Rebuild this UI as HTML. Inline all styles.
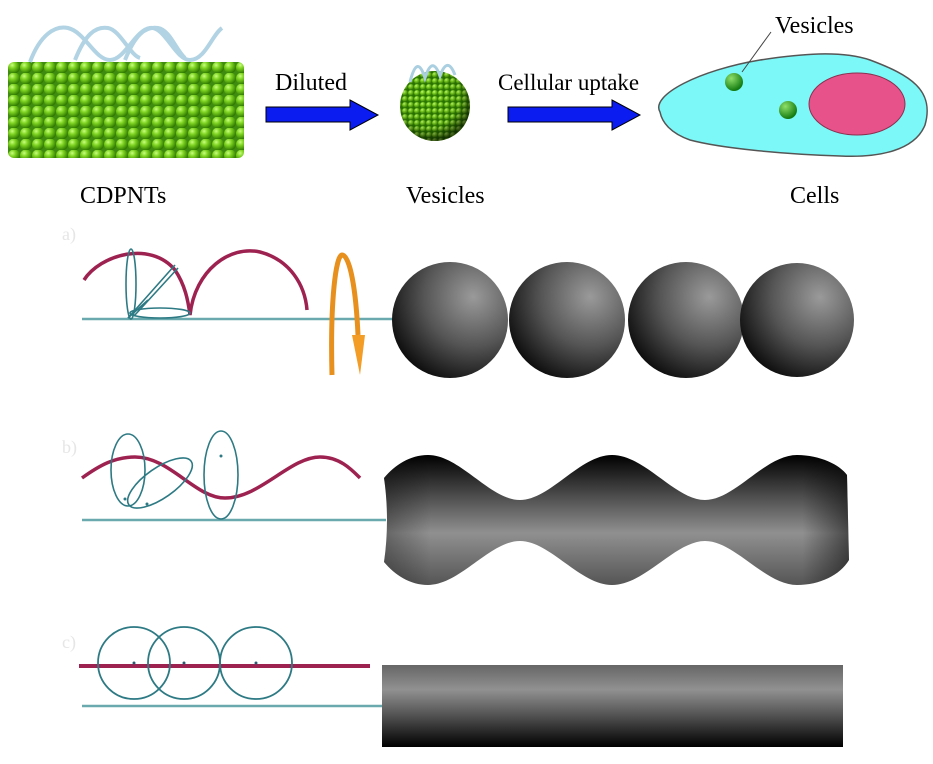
<!DOCTYPE html>
<html><head><meta charset="utf-8"><style>
html,body{margin:0;padding:0;background:#fff;}
svg{display:block;}
text{font-family:"Liberation Serif",serif;}
</style></head><body>
<svg width="933" height="764" viewBox="0 0 933 764" xmlns="http://www.w3.org/2000/svg">
<defs>
<radialGradient id="gb" cx="0.35" cy="0.3" r="0.7">
<stop offset="0" stop-color="#c8ff80"/><stop offset="0.4" stop-color="#7ed321"/><stop offset="1" stop-color="#2f7a00"/>
</radialGradient>
<pattern id="balls" x="8" y="62" width="12" height="11" patternUnits="userSpaceOnUse">
<rect width="12" height="11" fill="#3f8a10"/>
<circle cx="6" cy="5.5" r="6" fill="url(#gb)"/>
</pattern>
<pattern id="sballs" x="0" y="0" width="6" height="6" patternUnits="userSpaceOnUse">
<rect width="6" height="6" fill="#2a7a00"/>
<circle cx="3" cy="3" r="3" fill="url(#gb)"/>
</pattern>
<radialGradient id="shade" cx="0.4" cy="0.35" r="0.65">
<stop offset="0" stop-color="#000" stop-opacity="0"/><stop offset="0.7" stop-color="#000" stop-opacity="0.1"/><stop offset="1" stop-color="#000" stop-opacity="0.6"/>
</radialGradient>
<radialGradient id="sph" cx="0.7" cy="0.3" r="0.85">
<stop offset="0" stop-color="#9a9a9a"/><stop offset="0.5" stop-color="#555"/><stop offset="1" stop-color="#000"/>
</radialGradient>
<radialGradient id="vg" cx="0.35" cy="0.3" r="0.7">
<stop offset="0" stop-color="#8ee06a"/><stop offset="1" stop-color="#137a10"/>
</radialGradient>
<linearGradient id="wav" x1="0" y1="0" x2="0" y2="1">
<stop offset="0" stop-color="#000"/><stop offset="0.35" stop-color="#555"/><stop offset="0.6" stop-color="#909090"/><stop offset="1" stop-color="#555"/>
</linearGradient>
<linearGradient id="wavh" x1="0" y1="0" x2="1" y2="0">
<stop offset="0" stop-color="#000" stop-opacity="0.3"/><stop offset="0.1" stop-color="#000" stop-opacity="0"/><stop offset="0.9" stop-color="#000" stop-opacity="0"/><stop offset="1" stop-color="#000" stop-opacity="0.5"/>
</linearGradient>
<linearGradient id="cyl" x1="0" y1="0" x2="0" y2="1">
<stop offset="0" stop-color="#666"/><stop offset="0.3" stop-color="#919191"/><stop offset="0.6" stop-color="#555"/><stop offset="1" stop-color="#000"/>
</linearGradient>
<clipPath id="vc"><circle cx="435" cy="106" r="35"/></clipPath>
</defs>

<!-- CDPNT cylinder -->
<rect x="8" y="62" width="236" height="96" rx="6" fill="url(#balls)"/>
<g fill="none" stroke="#a9cfe0" stroke-width="4" opacity="0.9">
<path d="M30,62 C40,35 55,25 68,28 C85,32 95,60 110,60 C125,60 135,30 150,28 C165,26 175,60 190,60 C205,60 212,35 222,28"/>
<path d="M75,60 C85,35 95,26 108,28 C120,30 130,55 140,58"/>
<path d="M125,60 C135,35 145,26 158,28 C170,30 176,50 185,58"/>
</g>
<!-- Arrows -->
<text x="275" y="90" font-size="24">Diluted</text>
<polygon points="266,107 350,107 350,100 378,115 350,130 350,122 266,122" fill="#0a1cf0" stroke="#000" stroke-width="1"/>
<text x="498" y="90" font-size="23">Cellular uptake</text>
<polygon points="508,107 612,107 612,100 640,115 612,130 612,122 508,122" fill="#0a1cf0" stroke="#000" stroke-width="1"/>
<!-- vesicle -->
<rect x="400" y="71" width="70" height="70" fill="url(#sballs)" clip-path="url(#vc)"/>
<circle cx="435" cy="106" r="35" fill="url(#shade)"/>
<path d="M410,82 C415,62 420,62 425,78 C430,62 435,62 440,76 C445,62 450,62 455,75" fill="none" stroke="#a9cfe0" stroke-width="3"/>
<!-- cell -->
<path d="M660,112 C650,95 700,70 760,60 C800,54 840,50 870,60 C910,75 935,90 925,125 C915,150 880,158 840,156 C780,154 720,148 690,140 C670,133 662,122 660,112 Z" fill="#7df8f8" stroke="#555" stroke-width="1.5"/>
<ellipse cx="857" cy="104" rx="48" ry="31" fill="#e8528a" stroke="#8a3050" stroke-width="1"/>
<circle cx="734" cy="82" r="9" fill="url(#vg)"/>
<circle cx="788" cy="110" r="9" fill="url(#vg)"/>
<line x1="771" y1="32" x2="742" y2="72" stroke="#444" stroke-width="1"/>
<text x="775" y="33" font-size="24">Vesicles</text>
<text x="80" y="203" font-size="24">CDPNTs</text>
<text x="406" y="203" font-size="24">Vesicles</text>
<text x="790" y="203" font-size="24">Cells</text>

<!-- a) -->
<text x="62" y="240" font-size="18" fill="#e6e6e6" font-family="Liberation Sans">a)</text>
<line x1="82" y1="319" x2="393" y2="319" stroke="#6aa9ad" stroke-width="2.5"/>
<path d="M84,280 C100,255 150,240 175,270 C185,285 188,300 190,315 C195,270 230,245 260,252 C290,260 305,285 307,310" fill="none" stroke="#9e2250" stroke-width="3.5"/>
<g fill="none" stroke="#2d7a84" stroke-width="1.6">
<ellipse cx="131" cy="284" rx="5" ry="35"/>
<path d="M128,318 L175,265 M134,316 L178,268"/>
<ellipse cx="160" cy="313" rx="30" ry="5"/>
<path d="M128,318 L148,300"/>
</g>
<path d="M332,375 C330,300 336,255 342,255 C350,255 356,290 358,335" fill="none" stroke="#e8901e" stroke-width="5"/>
<polygon points="352,335 365,335 360,375" fill="#f39c26"/>
<circle cx="450" cy="320" r="58" fill="url(#sph)"/>
<circle cx="567" cy="320" r="58" fill="url(#sph)"/>
<circle cx="686" cy="320" r="58" fill="url(#sph)"/>
<circle cx="797" cy="320" r="57" fill="url(#sph)"/>

<!-- b) -->
<text x="62" y="453" font-size="18" fill="#e6e6e6" font-family="Liberation Sans">b)</text>
<line x1="82" y1="520" x2="386" y2="520" stroke="#6aa9ad" stroke-width="2.5"/>
<path d="M82,478 C100,465 115,457 135,457 C170,457 195,498 225,498 C260,498 290,457 320,457 C340,457 352,470 360,478" fill="none" stroke="#9e2250" stroke-width="3.5"/>
<g fill="none" stroke="#2d7a84" stroke-width="1.6">
<ellipse cx="128" cy="470" rx="17" ry="36"/>
<ellipse cx="160" cy="483" rx="38" ry="15" transform="rotate(-35 160 483)"/>
<ellipse cx="221" cy="475" rx="17" ry="44"/>
</g>
<g fill="#2d7a84"><circle cx="125" cy="499" r="1.5"/><circle cx="147" cy="504" r="1.5"/><circle cx="221" cy="456" r="1.5"/></g>
<path d="M384,478 C395,465 410,455 428,455 C460,455 490,500 520,500 C550,500 580,455 612,455 C645,455 675,500 705,500 C735,500 765,455 797,455 C820,455 840,465 847,475 L849,560 C840,575 820,585 797,585 C765,585 735,541 705,541 C675,541 645,585 612,585 C580,585 550,541 520,541 C490,541 460,585 428,585 C410,585 395,575 384,562 C388,535 388,505 384,478 Z" fill="url(#wav)"/>
<path d="M384,478 C395,465 410,455 428,455 C460,455 490,500 520,500 C550,500 580,455 612,455 C645,455 675,500 705,500 C735,500 765,455 797,455 C820,455 840,465 847,475 L849,560 C840,575 820,585 797,585 C765,585 735,541 705,541 C675,541 645,585 612,585 C580,585 550,541 520,541 C490,541 460,585 428,585 C410,585 395,575 384,562 C388,535 388,505 384,478 Z" fill="url(#wavh)"/>

<!-- c) -->
<text x="62" y="648" font-size="18" fill="#e6e6e6" font-family="Liberation Sans">c)</text>
<line x1="82" y1="706" x2="383" y2="706" stroke="#6aa9ad" stroke-width="2.5"/>
<line x1="79" y1="666" x2="370" y2="666" stroke="#9e2250" stroke-width="4"/>
<g fill="none" stroke="#2d7a84" stroke-width="1.8">
<circle cx="134" cy="663" r="36"/><circle cx="184" cy="663" r="36"/><circle cx="256" cy="663" r="36"/>
</g>
<g fill="#2d5a70"><circle cx="134" cy="663" r="1.5"/><circle cx="184" cy="663" r="1.5"/><circle cx="256" cy="663" r="1.5"/></g>
<rect x="382" y="665" width="461" height="82" fill="url(#cyl)"/>
</svg>
</body></html>
